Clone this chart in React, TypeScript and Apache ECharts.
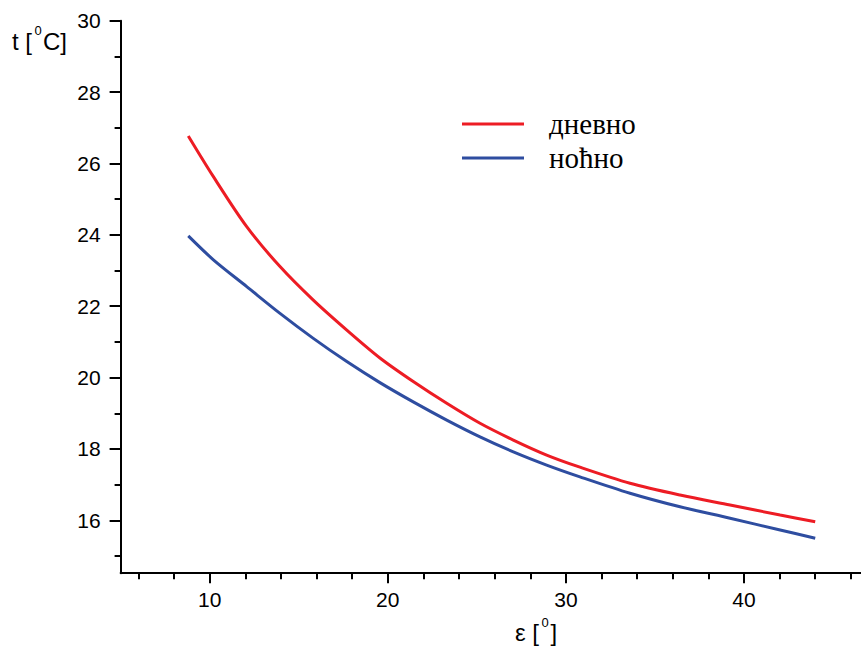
import React, { useEffect, useRef } from "react";
import * as echarts from "echarts";

const epsValues = [8.8, 10.21, 12.08, 13.95, 15.82, 17.7, 19.56, 21.43, 23.31, 25.18, 27.05, 28.92, 30.79, 33.6, 36.41, 39.22, 42.03, 44.0];
const dayValues = [26.77, 25.63, 24.23, 23.11, 22.17, 21.33, 20.55, 19.89, 19.28, 18.72, 18.25, 17.83, 17.49, 17.04, 16.71, 16.43, 16.15, 15.96];
const nightValues = [23.97, 23.3, 22.55, 21.8, 21.1, 20.45, 19.86, 19.32, 18.81, 18.34, 17.92, 17.55, 17.22, 16.76, 16.38, 16.06, 15.73, 15.5];

const xMajorTicks = [10, 20, 30, 40];
const xMinorTicks = [6, 8, 12, 14, 16, 18, 22, 24, 26, 28, 32, 34, 36, 38, 42, 44, 46];
const yMajorTicks = [16, 18, 20, 22, 24, 26, 28, 30];
const yMinorTicks = [15, 17, 19, 21, 23, 25, 27, 29];

const seriesNames = ["дневно", "ноћно"];
const seriesColors = ["#ed1c24", "#2e4da0"];

const FONT = "Liberation Sans, Arial, sans-serif";
const SERIF = "Liberation Serif, Times New Roman, serif";

export default function App() {
  const ref = useRef<HTMLDivElement>(null);
  useEffect(() => {
    if (!ref.current) return;
    const chart = echarts.init(ref.current, undefined, { renderer: "svg" });
    const xMin = 5, xMax = 46.57, yMin = 14.52, yMax = 30;
    const axisLine = { show: true, lineStyle: { color: "#000", width: 2 } };
    const baseX = { type: "value", min: xMin, max: xMax, splitLine: { show: false }, position: "bottom", gridIndex: 0 };
    const baseY = { type: "value", min: yMin, max: yMax, splitLine: { show: false }, position: "left", gridIndex: 0 };
    const txt = (text: string, x: number, y: number, size: number) => ({
      type: "text",
      x,
      y,
      style: { text, font: `${size}px ${FONT}`, fill: "#000", verticalAlign: "middle", align: "left" },
    });
    chart.setOption({
      animation: false,
      backgroundColor: "#fff",
      grid: { left: 120.6, top: 20.7, width: 740.4, height: 552.5, containLabel: false },
      xAxis: [
        {
          ...baseX,
          axisLine,
          axisTick: { show: true, inside: false, length: 10, lineStyle: { color: "#000", width: 2 }, customValues: xMajorTicks },
          axisLabel: { show: true, color: "#000", fontSize: 21, fontFamily: FONT, margin: 16, customValues: xMajorTicks },
        },
        {
          ...baseX,
          axisLine: { show: false },
          axisTick: { show: true, inside: false, length: 6, lineStyle: { color: "#000", width: 2 }, customValues: xMinorTicks },
          axisLabel: { show: false },
        },
      ],
      yAxis: [
        {
          ...baseY,
          axisLine,
          axisTick: { show: true, inside: false, length: 11, lineStyle: { color: "#000", width: 2 }, customValues: yMajorTicks },
          axisLabel: { show: true, color: "#000", fontSize: 21, fontFamily: FONT, margin: 20, customValues: yMajorTicks },
        },
        {
          ...baseY,
          axisLine: { show: false },
          axisTick: { show: true, inside: false, length: 6, lineStyle: { color: "#000", width: 2 }, customValues: yMinorTicks },
          axisLabel: { show: false },
        },
      ],
      legend: {
        orient: "vertical",
        left: 462,
        top: 109,
        padding: 0,
        icon: "rect",
        itemWidth: 62,
        itemHeight: 3,
        itemGap: 4,
        textStyle: { color: "#000", fontFamily: SERIF, fontSize: 29, lineHeight: 30, padding: [0, 0, 0, 20] },
        data: seriesNames,
      },
      graphic: [
        txt("t [", 12, 41.6, 24),
        txt("0", 34.5, 30, 13),
        txt("C]", 43, 41.6, 24),
        txt("ε [", 515, 632, 24),
        txt("0", 541.5, 622, 13),
        txt("]", 550.5, 632, 24),
      ],
      series: seriesNames.map((name, i) => ({
        name,
        type: "line",
        xAxisIndex: 0,
        yAxisIndex: 0,
        smooth: 0.3,
        showSymbol: false,
        symbol: "none",
        color: seriesColors[i],
        lineStyle: { color: seriesColors[i], width: 3 },
        data: epsValues.map((e, j) => [e, (i === 0 ? dayValues : nightValues)[j]]),
      })),
    });
    return () => chart.dispose();
  }, []);
  return <div ref={ref} style={{ position: "absolute", left: 0, top: 0, width: 861, height: 648 }} />;
}
